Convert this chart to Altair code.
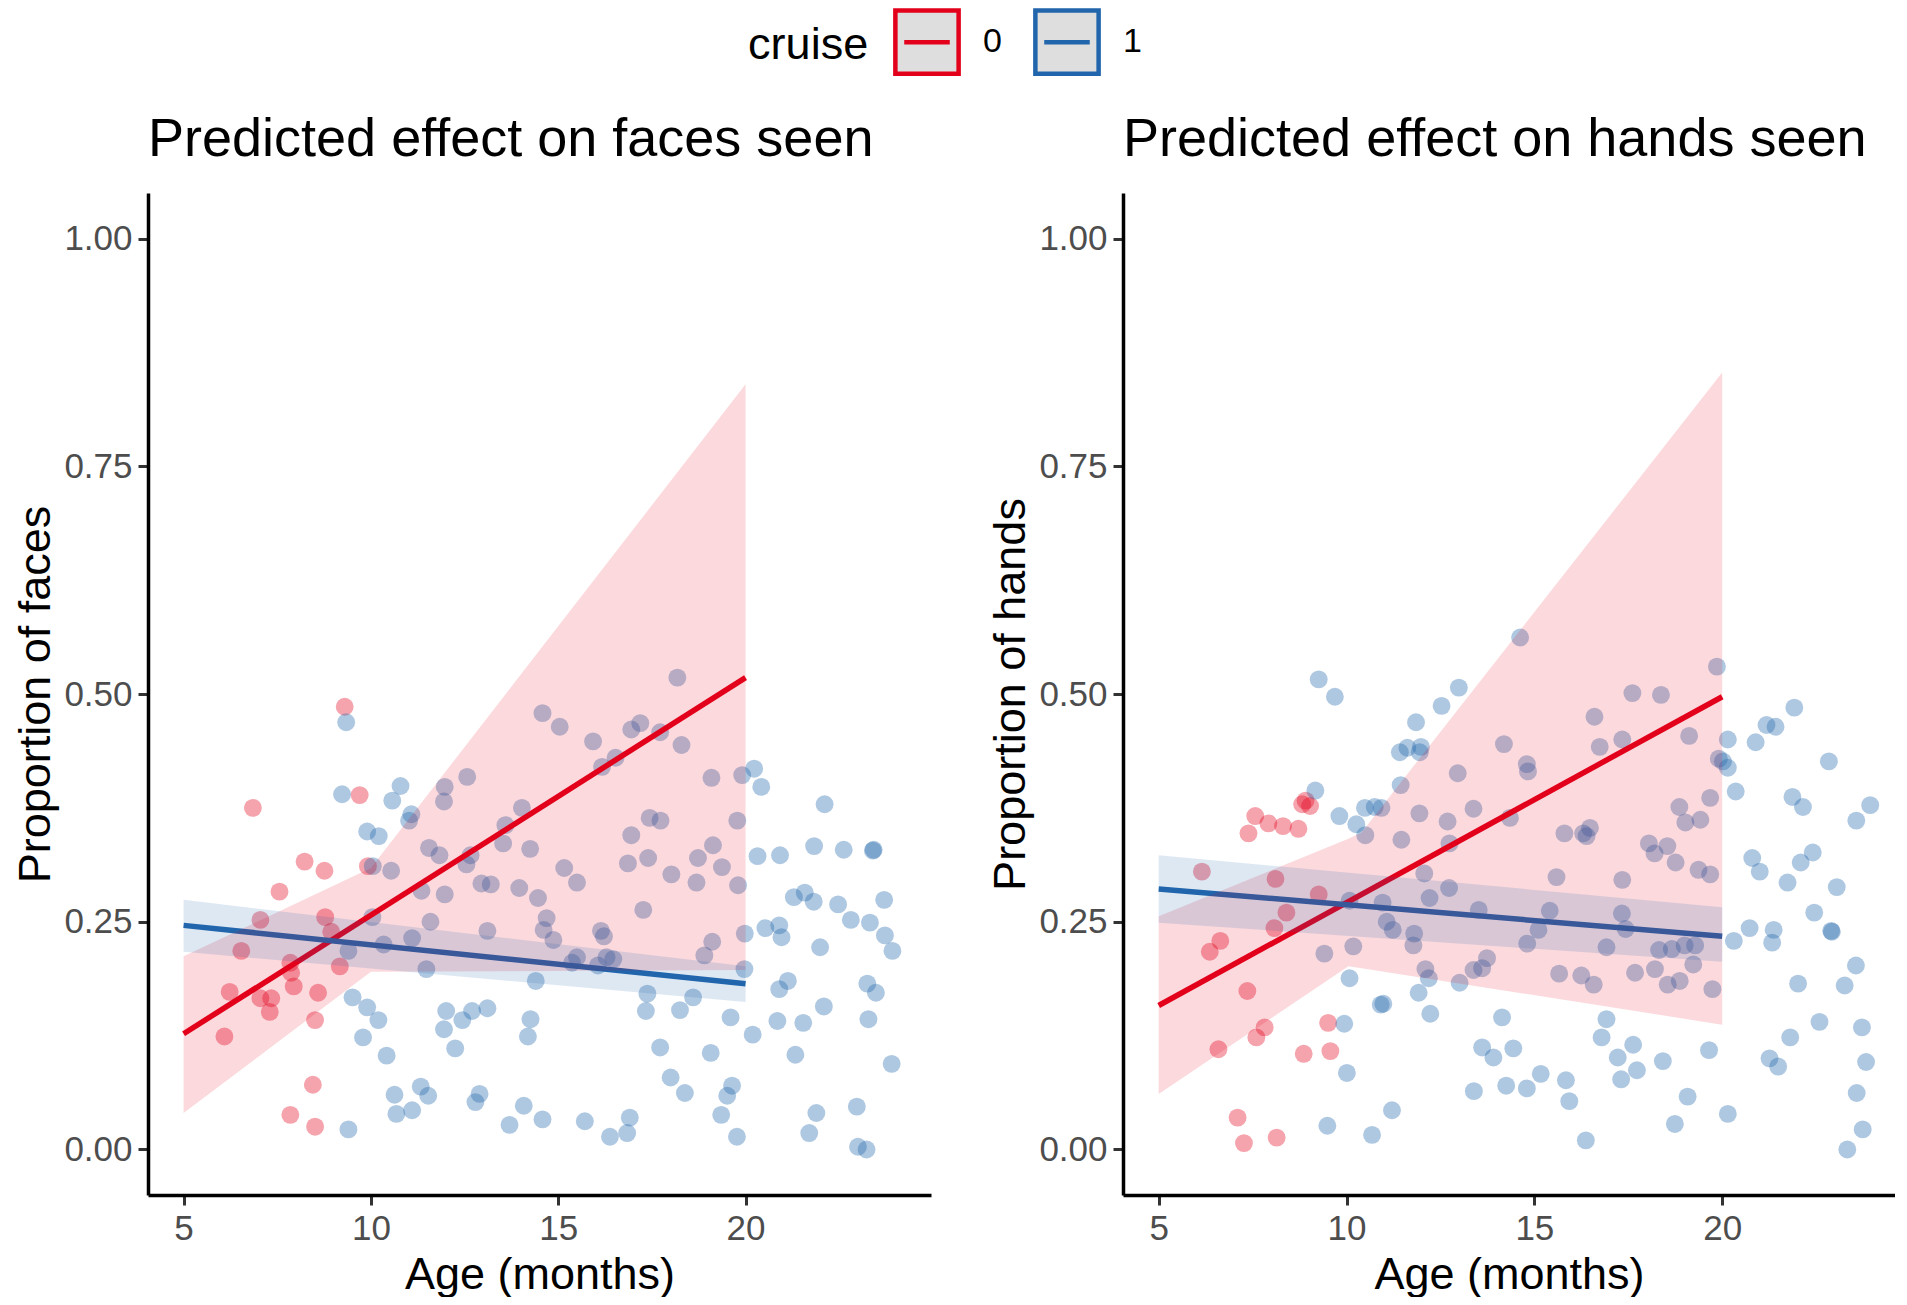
import altair as alt
import pandas as pd

RED = "#e3001b"
BLUE = "#2166ac"
FONT = "Liberation Sans"

# faces seen, cruise = 0
faces_age_0 = [9.30, 6.85, 9.70, 8.23, 8.76, 7.56, 7.05, 8.78, 8.94, 6.54, 7.85, 9.17, 7.87,
               7.94, 6.23, 8.59, 7.05, 7.34, 7.30, 8.51, 6.09, 8.45, 7.85, 8.51, 9.92]
faces_prop_0 = [0.486, 0.375, 0.389, 0.316, 0.306, 0.283, 0.252, 0.255, 0.239, 0.218, 0.205, 0.201, 0.194,
                0.179, 0.173, 0.172, 0.166, 0.166, 0.151, 0.142, 0.124, 0.071, 0.038, 0.025, 0.311]

# faces seen, cruise = 1
faces_age_1 = [9.34, 9.23, 10.79, 10.57, 11.08, 11.02, 9.90, 10.21, 10.54, 10.05, 11.35, 11.55, 10.04,
               10.34, 11.10, 9.40, 11.59, 11.48, 9.51, 9.90, 10.20, 9.79, 10.42, 11.33, 11.53, 10.63,
               10.68, 11.10, 9.40,
               18.18, 14.58, 15.04, 15.93, 16.95, 17.19, 17.72, 18.29, 16.17, 16.53, 12.57, 11.97, 11.95,
               14.03, 13.59, 13.53, 14.25, 11.83, 12.66, 12.55, 16.95, 17.44, 17.73, 16.86, 17.40, 18.02,
               18.73, 18.69, 15.16, 15.50, 12.95, 13.20, 13.96, 11.97, 14.46, 14.69, 13.11, 14.61, 14.87,
               17.27, 16.14, 16.22, 15.50, 15.37, 16.06, 16.29, 16.47, 18.90, 14.40, 17.38, 17.34, 18.25,
               18.60, 12.01, 11.95, 12.44, 12.70, 13.11, 12.25, 14.26, 14.19, 17.72, 18.00, 18.38, 12.90,
               12.79, 14.08, 13.70, 14.58, 15.71, 16.38, 16.84, 16.91,
               19.09, 19.91, 20.23, 20.42, 22.11, 19.78, 19.13, 19.37, 19.80, 20.32, 20.92, 21.83, 22.62,
               23.40, 23.42, 21.29, 21.58, 21.82, 22.47, 23.70, 22.81, 23.32, 23.72, 23.92, 20.53, 20.90,
               20.96, 21.99, 19.98, 19.11, 19.97, 21.13, 20.90, 23.25, 23.48, 22.09, 19.60, 20.85, 21.54,
               23.28, 20.19, 19.07, 21.33, 23.90, 19.64, 19.51, 19.35, 19.77, 21.89, 21.70, 22.97, 23.00,
               23.23]
faces_prop_1 = [0.469, 0.390, 0.399, 0.383, 0.368, 0.361, 0.349, 0.344, 0.306, 0.311, 0.284, 0.331, 0.255,
                0.225, 0.232, 0.218, 0.250, 0.198, 0.167, 0.156, 0.142, 0.123, 0.103, 0.069, 0.059, 0.060,
                0.039, 0.043, 0.022,
                0.518, 0.479, 0.464, 0.448, 0.461, 0.468, 0.458, 0.444, 0.420, 0.430, 0.409, 0.398, 0.382,
                0.375, 0.356, 0.336, 0.330, 0.323, 0.323, 0.313, 0.345, 0.364, 0.361, 0.314, 0.320, 0.302,
                0.320, 0.293, 0.309, 0.293, 0.292, 0.291, 0.287, 0.280, 0.276, 0.254, 0.240, 0.241, 0.230,
                0.263, 0.240, 0.234, 0.211, 0.205, 0.202, 0.211, 0.209, 0.213, 0.185, 0.171, 0.152, 0.153,
                0.167, 0.152, 0.132, 0.142, 0.152, 0.155, 0.111, 0.143, 0.124, 0.112, 0.079, 0.062, 0.061,
                0.052, 0.048, 0.027, 0.033, 0.031, 0.014, 0.018, 0.035,
                0.408, 0.411, 0.418, 0.398, 0.379, 0.361, 0.334, 0.310, 0.290, 0.322, 0.323, 0.333, 0.329,
                0.328, 0.329, 0.277, 0.282, 0.272, 0.269, 0.274, 0.252, 0.249, 0.235, 0.218, 0.243, 0.246,
                0.233, 0.222, 0.237, 0.228, 0.198, 0.185, 0.176, 0.182, 0.172, 0.157, 0.145, 0.141, 0.139,
                0.143, 0.126, 0.106, 0.104, 0.094, 0.070, 0.059, 0.038, 0.014, 0.040, 0.018, 0.047, 0.003,
                0.000]

# hands seen, cruise = 0
hands_age_0 = [6.15, 7.57, 7.39, 7.92, 8.31, 8.72, 8.91, 9.03, 8.82, 8.11, 9.26, 8.40, 8.08,
               6.64, 6.36, 7.36, 7.82, 7.60, 6.59, 9.51, 8.86, 9.57, 7.10, 7.27, 8.14]
hands_prop_0 = [0.305, 0.366, 0.347, 0.358, 0.355, 0.352, 0.383, 0.377, 0.379, 0.297, 0.280, 0.260, 0.243,
                0.229, 0.217, 0.174, 0.134, 0.123, 0.110, 0.139, 0.105, 0.108, 0.035, 0.007, 0.013]

# hands seen, cruise = 1
hands_age_1 = [9.26, 9.69, 11.85, 11.62, 11.42, 9.17, 11.44, 9.81, 10.26, 10.49, 10.75, 10.93, 10.50,
               11.46, 11.94, 10.08, 10.96, 11.07, 11.23, 11.78, 10.18, 9.41, 10.08, 11.92, 10.91, 10.98,
               9.94, 10.01, 11.21, 9.49, 10.68,
               14.62, 12.99, 12.53, 11.98, 11.95, 14.19, 14.80, 14.83, 12.96, 13.38, 12.69, 12.74, 14.35,
               16.60, 17.61, 18.37, 16.74, 17.34, 18.86, 15.80, 16.30, 16.48, 16.39, 18.05, 18.54, 18.20,
               18.76, 12.07, 12.73, 12.21, 13.52, 15.59, 17.34, 15.41, 17.33, 15.11, 17.43, 11.80, 14.81,
               16.92, 18.32, 18.66, 13.74, 13.61, 13.38, 12.10, 12.19, 13.01, 15.66, 16.25, 16.58, 17.68,
               18.21, 18.55, 12.23, 14.14, 16.92, 16.79, 17.63, 17.22, 17.73, 17.31, 18.42, 13.61, 13.91,
               14.44, 13.39, 14.25, 14.80, 15.17, 15.84, 15.93, 16.37, 18.74,
               19.86, 21.92, 21.18, 21.42, 20.89, 20.15, 19.12, 19.91, 20.02, 20.15, 22.84, 20.36, 21.87,
               22.15, 23.94, 23.57, 19.68, 19.02, 19.42, 19.37, 19.68, 20.80, 21.00, 21.74, 22.09, 22.41,
               23.05, 22.45, 22.90, 22.92, 20.73, 20.31, 21.37, 21.33, 19.00, 19.28, 19.23, 18.87, 19.74,
               23.56, 22.02, 23.26, 22.59, 23.72, 21.81, 19.65, 21.26, 21.49, 23.83, 23.58, 19.08, 20.15,
               23.74, 23.33]
hands_prop_1 = [0.516, 0.497, 0.469, 0.441, 0.436, 0.394, 0.400, 0.366, 0.357, 0.375, 0.376, 0.375, 0.345,
                0.340, 0.369, 0.273, 0.271, 0.250, 0.241, 0.224, 0.223, 0.215, 0.188, 0.172, 0.159, 0.160,
                0.138, 0.084, 0.043, 0.026, 0.016,
                0.562, 0.507, 0.487, 0.442, 0.436, 0.445, 0.423, 0.415, 0.413, 0.374, 0.360, 0.336, 0.364,
                0.475, 0.501, 0.499, 0.442, 0.450, 0.376, 0.347, 0.347, 0.353, 0.344, 0.336, 0.333, 0.325,
                0.315, 0.303, 0.287, 0.276, 0.263, 0.299, 0.296, 0.262, 0.259, 0.241, 0.242, 0.237, 0.226,
                0.222, 0.219, 0.220, 0.210, 0.199, 0.197, 0.198, 0.188, 0.183, 0.193, 0.191, 0.181, 0.194,
                0.198, 0.181, 0.149, 0.145, 0.143, 0.123, 0.115, 0.101, 0.087, 0.077, 0.097, 0.112, 0.101,
                0.111, 0.064, 0.070, 0.067, 0.083, 0.076, 0.053, 0.010, 0.028,
                0.530, 0.485, 0.466, 0.464, 0.447, 0.450, 0.454, 0.429, 0.426, 0.419, 0.426, 0.393, 0.387,
                0.376, 0.378, 0.361, 0.386, 0.359, 0.362, 0.307, 0.302, 0.320, 0.305, 0.293, 0.315, 0.326,
                0.288, 0.260, 0.240, 0.239, 0.243, 0.229, 0.241, 0.227, 0.224, 0.224, 0.203, 0.185, 0.176,
                0.202, 0.182, 0.180, 0.140, 0.134, 0.123, 0.109, 0.100, 0.091, 0.096, 0.062, 0.058, 0.039,
                0.022, 0.000]

# fitted lines (age 5 -> 20)
fit_age = [5, 20]
faces_fit_0 = [0.127, 0.518]
faces_fit_1 = [0.246, 0.182]
hands_fit_0 = [0.158, 0.497]
hands_fit_1 = [0.286, 0.234]

# confidence ribbons
faces_band_age_0 = [5, 10, 20]
faces_lo_0 = [0.040, 0.195, 0.197]
faces_hi_0 = [0.212, 0.309, 0.840]
faces_band_age_1 = [5, 20]
faces_lo_1 = [0.217, 0.162]
faces_hi_1 = [0.274, 0.201]

hands_band_age_0 = [5, 10.05, 10.4, 20]
hands_lo_0 = [0.061, 0.201, 0.199, 0.137]
hands_hi_0 = [0.256, 0.341, 0.348, 0.853]
hands_band_age_1 = [5, 20]
hands_lo_1 = [0.249, 0.206]
hands_hi_1 = [0.323, 0.266]


def long(pairs, cols):
    frames = []
    for cruise, arrays in pairs:
        d = pd.DataFrame(dict(zip(cols, arrays)))
        d["cruise"] = cruise
        frames.append(d)
    return pd.concat(frames, ignore_index=True)


fill_color = alt.Color("cruise:N", scale=alt.Scale(domain=["0", "1"], range=[RED, BLUE]),
                       legend=None)
# the lines carry the legend; their scale takes its domain from the data so that
# Vega-Lite does not fold this legend into the hidden colour one.
# A top legend starts at the left edge: no-break spaces (after a zero-width one,
# so they are not trimmed away) push it towards the middle.
line_stroke = alt.Stroke(
    "line_cruise:N", title="\u200b" + "\u00a0" * 48 + "cruise",
    scale=alt.Scale(range=[RED, BLUE]),
    legend=alt.Legend(
        orient="top", offset=30, direction="horizontal", titleOrient="left",
        symbolType="M-1,-1H1V1H-1Z M-0.72,0H0.72", symbolSize=4000,
        symbolFillColor="#dedede", symbolStrokeWidth=4.5, symbolOpacity=1,
    ),
)


def panel(pts, fit, band, title, ytitle, width, xmax):
    x = alt.X("age:Q", title="Age (months)",
              scale=alt.Scale(domain=[4.05, xmax], nice=False, zero=False),
              axis=alt.Axis(values=[5, 10, 15, 20]))
    y = alt.Y("prop:Q", title=ytitle,
              scale=alt.Scale(domain=[-0.05, 1.05], nice=False),
              axis=alt.Axis(values=[0, 0.25, 0.5, 0.75, 1.0], format=".2f"))

    points = alt.Chart(pts).mark_circle(size=320, opacity=0.36).encode(x=x, y=y, color=fill_color)
    lines = alt.Chart(fit.assign(line_cruise=fit["cruise"])).mark_line(strokeWidth=5.5).encode(
        x=x, y=y, stroke=line_stroke
    )
    bands = alt.Chart(band).mark_area(opacity=0.15).encode(x=x, y="lo:Q", y2="hi:Q", color=fill_color)
    return alt.layer(points, lines, bands).properties(
        width=width, height=1002,
        title=alt.TitleParams(title, anchor="start", frame="group", fontSize=54,
                              fontWeight="normal", font=FONT, color="black", offset=26),
    )


faces_pts = long([("0", [faces_age_0, faces_prop_0]), ("1", [faces_age_1, faces_prop_1])], ["age", "prop"])
hands_pts = long([("0", [hands_age_0, hands_prop_0]), ("1", [hands_age_1, hands_prop_1])], ["age", "prop"])
faces_fit = long([("0", [fit_age, faces_fit_0]), ("1", [fit_age, faces_fit_1])], ["age", "prop"])
hands_fit = long([("0", [fit_age, hands_fit_0]), ("1", [fit_age, hands_fit_1])], ["age", "prop"])
faces_band = long([("0", [faces_band_age_0, faces_lo_0, faces_hi_0]),
                   ("1", [faces_band_age_1, faces_lo_1, faces_hi_1])], ["age", "lo", "hi"])
hands_band = long([("0", [hands_band_age_0, hands_lo_0, hands_hi_0]),
                   ("1", [hands_band_age_1, hands_lo_1, hands_hi_1])], ["age", "lo", "hi"])

left = panel(faces_pts, faces_fit, faces_band, "Predicted effect on faces seen",
             "Proportion of faces", 783, 24.95)
right = panel(hands_pts, hands_fit, hands_band, "Predicted effect on hands seen",
              "Proportion of hands", 772, 24.6)

chart = (
    alt.hconcat(left, right, spacing=57)
    .properties(padding={"top": 0, "left": 5, "right": 0, "bottom": 0})
    .configure_view(stroke=None)
    .configure_axis(
        grid=False, domainColor="black", domainWidth=3.5, tickColor="#333333", tickWidth=3,
        tickSize=10, labelFont=FONT, labelFontSize=35, labelColor="#4d4d4d", labelPadding=6,
        titleFont=FONT, titleFontSize=45, titleFontWeight="normal", titleColor="black",
    )
    .configure_axisX(titlePadding=6)
    .configure_axisY(titlePadding=5)
    .configure_legend(
        labelFont=FONT, labelFontSize=34, labelColor="black",
        labelOffset=22, columnPadding=24, titleFont=FONT, titleFontSize=45,
        titleFontWeight="normal", titleColor="black", titlePadding=24, titleLimit=1200,
    )
)

chart.save("out.html", embed_options={"renderer": "svg", "actions": False})
